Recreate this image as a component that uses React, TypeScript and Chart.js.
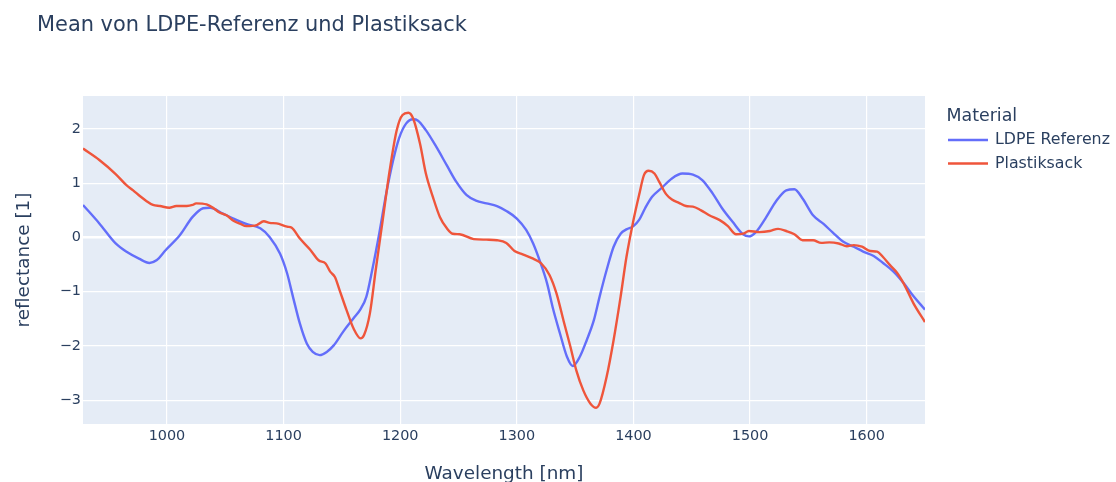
import React, { useEffect, useRef } from "react";
import { Chart, registerables } from "chart.js";

Chart.register(...registerables);

const TITLE = "Mean von LDPE-Referenz und Plastiksack";
const X_TITLE = "Wavelength [nm]";
const Y_TITLE = "reflectance [1]";
const LEGEND_TITLE = "Material";
const SERIES_NAMES = ["LDPE Referenz", "Plastiksack"];
const SERIES_COLORS = ["#636efa", "#EF553B"];

const X_TICKS = [1000, 1100, 1200, 1300, 1400, 1500, 1600];
const Y_TICKS = [-3, -2, -1, 0, 1, 2];
const X_MIN = 928;
const X_MAX = 1650;
const Y_MIN = -3.44;
const Y_MAX = 2.61;

const LDPE_WAVELENGTH = [
  928, 942, 956, 965, 976, 985, 991, 999, 1011, 1022, 1031, 1037, 1048, 1057, 1068, 1080,
  1088, 1097, 1103, 1108, 1114, 1120, 1125, 1131, 1137, 1143, 1151, 1160, 1166, 1171, 1176,
  1182, 1188, 1194, 1199, 1205, 1211, 1215, 1222, 1231, 1240, 1248, 1257, 1265, 1274, 1283,
  1291, 1300, 1308, 1314, 1320, 1326, 1331, 1337, 1343, 1348, 1354, 1360, 1366, 1371, 1377,
  1383, 1389, 1394, 1400, 1405, 1410, 1416, 1425, 1433, 1442, 1451, 1459, 1468, 1476, 1485,
  1494, 1499, 1505, 1514, 1522, 1531, 1538, 1545, 1554, 1563, 1571, 1580, 1589, 1597, 1606,
  1614, 1623, 1632, 1640, 1650,
];
const LDPE_REFLECTANCE = [
  0.6, 0.26, -0.11, -0.26, -0.39, -0.47, -0.42, -0.23, 0.04, 0.38, 0.54, 0.55, 0.44, 0.35, 0.25, 0.17,
  0.01, -0.3, -0.66, -1.09, -1.59, -1.96, -2.11, -2.17, -2.11, -1.99, -1.74, -1.49, -1.32, -1.09, -0.6,
  0.07, 0.81, 1.43, 1.83, 2.1, 2.18, 2.16, 1.98, 1.67, 1.33, 1.03, 0.78, 0.68, 0.63, 0.58,
  0.49, 0.35, 0.14, -0.11, -0.45, -0.85, -1.31, -1.77, -2.2, -2.37, -2.2, -1.89, -1.53, -1.09, -0.6,
  -0.17, 0.07, 0.15, 0.21, 0.33, 0.54, 0.75, 0.93, 1.09, 1.18, 1.16, 1.06, 0.81, 0.54, 0.29,
  0.06, 0.02, 0.1, 0.38, 0.66, 0.87, 0.89, 0.72, 0.41, 0.25, 0.09, -0.08, -0.17, -0.26, -0.34,
  -0.47, -0.63, -0.85, -1.08, -1.33,
];

const SACK_WAVELENGTH = [
  928, 942, 956, 965, 971, 977, 982, 988, 994, 1002, 1008, 1017, 1022, 1025, 1034, 1040,
  1045, 1051, 1057, 1063, 1068, 1077, 1083, 1088, 1094, 1103, 1107, 1114, 1123, 1130, 1136,
  1140, 1144, 1148, 1154, 1160, 1166, 1169, 1174, 1179, 1185, 1191, 1197, 1202, 1207, 1211,
  1217, 1222, 1228, 1234, 1240, 1245, 1251, 1263, 1274, 1283, 1291, 1298, 1305, 1314, 1321,
  1328, 1334, 1340, 1346, 1351, 1357, 1363, 1368, 1371, 1377, 1383, 1389, 1394, 1400, 1405,
  1409, 1413, 1418, 1422, 1428, 1433, 1439, 1445, 1451, 1458, 1465, 1474, 1481, 1488, 1494,
  1499, 1508, 1517, 1524, 1531, 1538, 1545, 1554, 1561, 1568, 1576, 1583, 1589, 1596, 1603,
  1609, 1614, 1620, 1626, 1632, 1640, 1650,
];
const SACK_REFLECTANCE = [
  1.64, 1.43, 1.17, 0.97, 0.87, 0.76, 0.68, 0.6, 0.58, 0.55, 0.58, 0.58, 0.6, 0.63, 0.61, 0.54,
  0.46, 0.41, 0.31, 0.25, 0.21, 0.23, 0.3, 0.27, 0.26, 0.2, 0.18, -0.02, -0.23, -0.42, -0.48,
  -0.63, -0.73, -0.97, -1.34, -1.68, -1.86, -1.8, -1.4, -0.6, 0.32, 1.24, 1.98, 2.26, 2.3, 2.2,
  1.73, 1.18, 0.75, 0.38, 0.17, 0.07, 0.06, -0.03, -0.04, -0.05, -0.1, -0.25, -0.31, -0.39, -0.48,
  -0.69, -1.03, -1.53, -2.02, -2.45, -2.82, -3.06, -3.14, -3.06, -2.57, -1.89, -1.09, -0.36, 0.32, 0.8,
  1.15, 1.23, 1.18, 1.03, 0.8, 0.7, 0.64, 0.58, 0.57, 0.5, 0.41, 0.32, 0.21, 0.06, 0.07,
  0.12, 0.1, 0.12, 0.16, 0.12, 0.06, -0.05, -0.05, -0.1, -0.09, -0.11, -0.16, -0.14, -0.17, -0.25,
  -0.26, -0.36, -0.51, -0.65, -0.86, -1.21, -1.56,
];

const FONT = '"DejaVu Sans", Verdana, sans-serif';
const TEXT_COLOR = "#2a3f5f";
const PLOT_BG = "#E5ECF6";

const decorPlugin = {
  id: "decor",
  beforeDraw(chart: any) {
    const { ctx, chartArea: a } = chart;
    ctx.save();
    ctx.fillStyle = PLOT_BG;
    ctx.fillRect(a.left, a.top, a.right - a.left, a.bottom - a.top);
    ctx.restore();
  },
  afterDraw(chart: any) {
    const { ctx, chartArea: a } = chart;
    ctx.save();
    ctx.fillStyle = TEXT_COLOR;
    ctx.textAlign = "left";
    ctx.textBaseline = "alphabetic";
    ctx.font = `20.9px ${FONT}`;
    ctx.fillText(TITLE, 37, 31);

    ctx.font = `18.4px ${FONT}`;
    ctx.textAlign = "center";
    ctx.fillText(X_TITLE, (a.left + a.right) / 2, 478.5);

    ctx.save();
    ctx.translate(28.5, (a.top + a.bottom) / 2);
    ctx.rotate(-Math.PI / 2);
    ctx.fillText(Y_TITLE, 0, 0);
    ctx.restore();

    // legend
    ctx.textAlign = "left";
    ctx.font = `17.4px ${FONT}`;
    ctx.fillText(LEGEND_TITLE, 946.5, 120.5);
    const rows = [140, 163.5];
    ctx.font = `15.8px ${FONT}`;
    ctx.textBaseline = "middle";
    SERIES_NAMES.forEach((name, i) => {
      ctx.strokeStyle = SERIES_COLORS[i];
      ctx.lineWidth = 2.4;
      ctx.beginPath();
      ctx.moveTo(948, rows[i]);
      ctx.lineTo(988, rows[i]);
      ctx.stroke();
      ctx.fillText(name, 995, rows[i]);
    });
    ctx.restore();
  },
};

export default function App() {
  const canvasRef = useRef<HTMLCanvasElement | null>(null);

  useEffect(() => {
    const canvas = canvasRef.current;
    if (!canvas) return;
    const chart = new Chart(canvas, {
      type: "line",
      data: {
        datasets: [
          {
            label: SERIES_NAMES[0],
            data: LDPE_WAVELENGTH.map((x, i) => ({ x, y: LDPE_REFLECTANCE[i] })),
            borderColor: SERIES_COLORS[0],
            backgroundColor: SERIES_COLORS[0],
            borderWidth: 2.4,
            pointRadius: 0,
            cubicInterpolationMode: "monotone",
            fill: false,
            order: 1,
          },
          {
            label: SERIES_NAMES[1],
            data: SACK_WAVELENGTH.map((x, i) => ({ x, y: SACK_REFLECTANCE[i] })),
            borderColor: SERIES_COLORS[1],
            backgroundColor: SERIES_COLORS[1],
            borderWidth: 2.4,
            pointRadius: 0,
            cubicInterpolationMode: "monotone",
            fill: false,
            order: 0,
          },
        ],
      },
      options: {
        responsive: false,
        devicePixelRatio: 1,
        animation: false,
        layout: { padding: { top: 96, right: 191, bottom: 0, left: 0 } },
        plugins: {
          legend: { display: false },
          title: { display: false },
          tooltip: { enabled: false },
        },
        scales: {
          x: {
            type: "linear",
            min: X_MIN,
            max: X_MAX,
            afterBuildTicks: (s: any) => {
              s.ticks = X_TICKS.map((v) => ({ value: v }));
            },
            afterFit: (s: any) => {
              s.height = 58;
            },
            grid: { color: "#ffffff", lineWidth: 1.2, drawTicks: false },
            border: { display: false },
            ticks: {
              padding: 4,
              color: TEXT_COLOR,
              font: { family: FONT, size: 14.4 },
              maxRotation: 0,
              autoSkip: false,
              callback: (v: any) => String(v),
            },
          },
          y: {
            type: "linear",
            min: Y_MIN,
            max: Y_MAX,
            afterBuildTicks: (s: any) => {
              s.ticks = Y_TICKS.map((v) => ({ value: v }));
            },
            afterFit: (s: any) => {
              s.width = 83;
            },
            grid: {
              color: "#ffffff",
              lineWidth: (c: any) => (c.tick && c.tick.value === 0 ? 2.4 : 1.2),
              drawTicks: false,
            },
            border: { display: false },
            ticks: {
              padding: 2,
              color: TEXT_COLOR,
              font: { family: FONT, size: 14.4 },
              autoSkip: false,
              callback: (v: any) => (v < 0 ? "\u2212" + Math.abs(v) : String(v)),
            },
          },
        },
      },
      plugins: [decorPlugin],
    });
    return () => chart.destroy();
  }, []);

  return (
    <div style={{ position: "fixed", left: 0, top: 0, width: 1116, height: 482, background: "#fff" }}>
      <canvas ref={canvasRef} width={1116} height={482} style={{ width: 1116, height: 482 }} />
    </div>
  );
}
